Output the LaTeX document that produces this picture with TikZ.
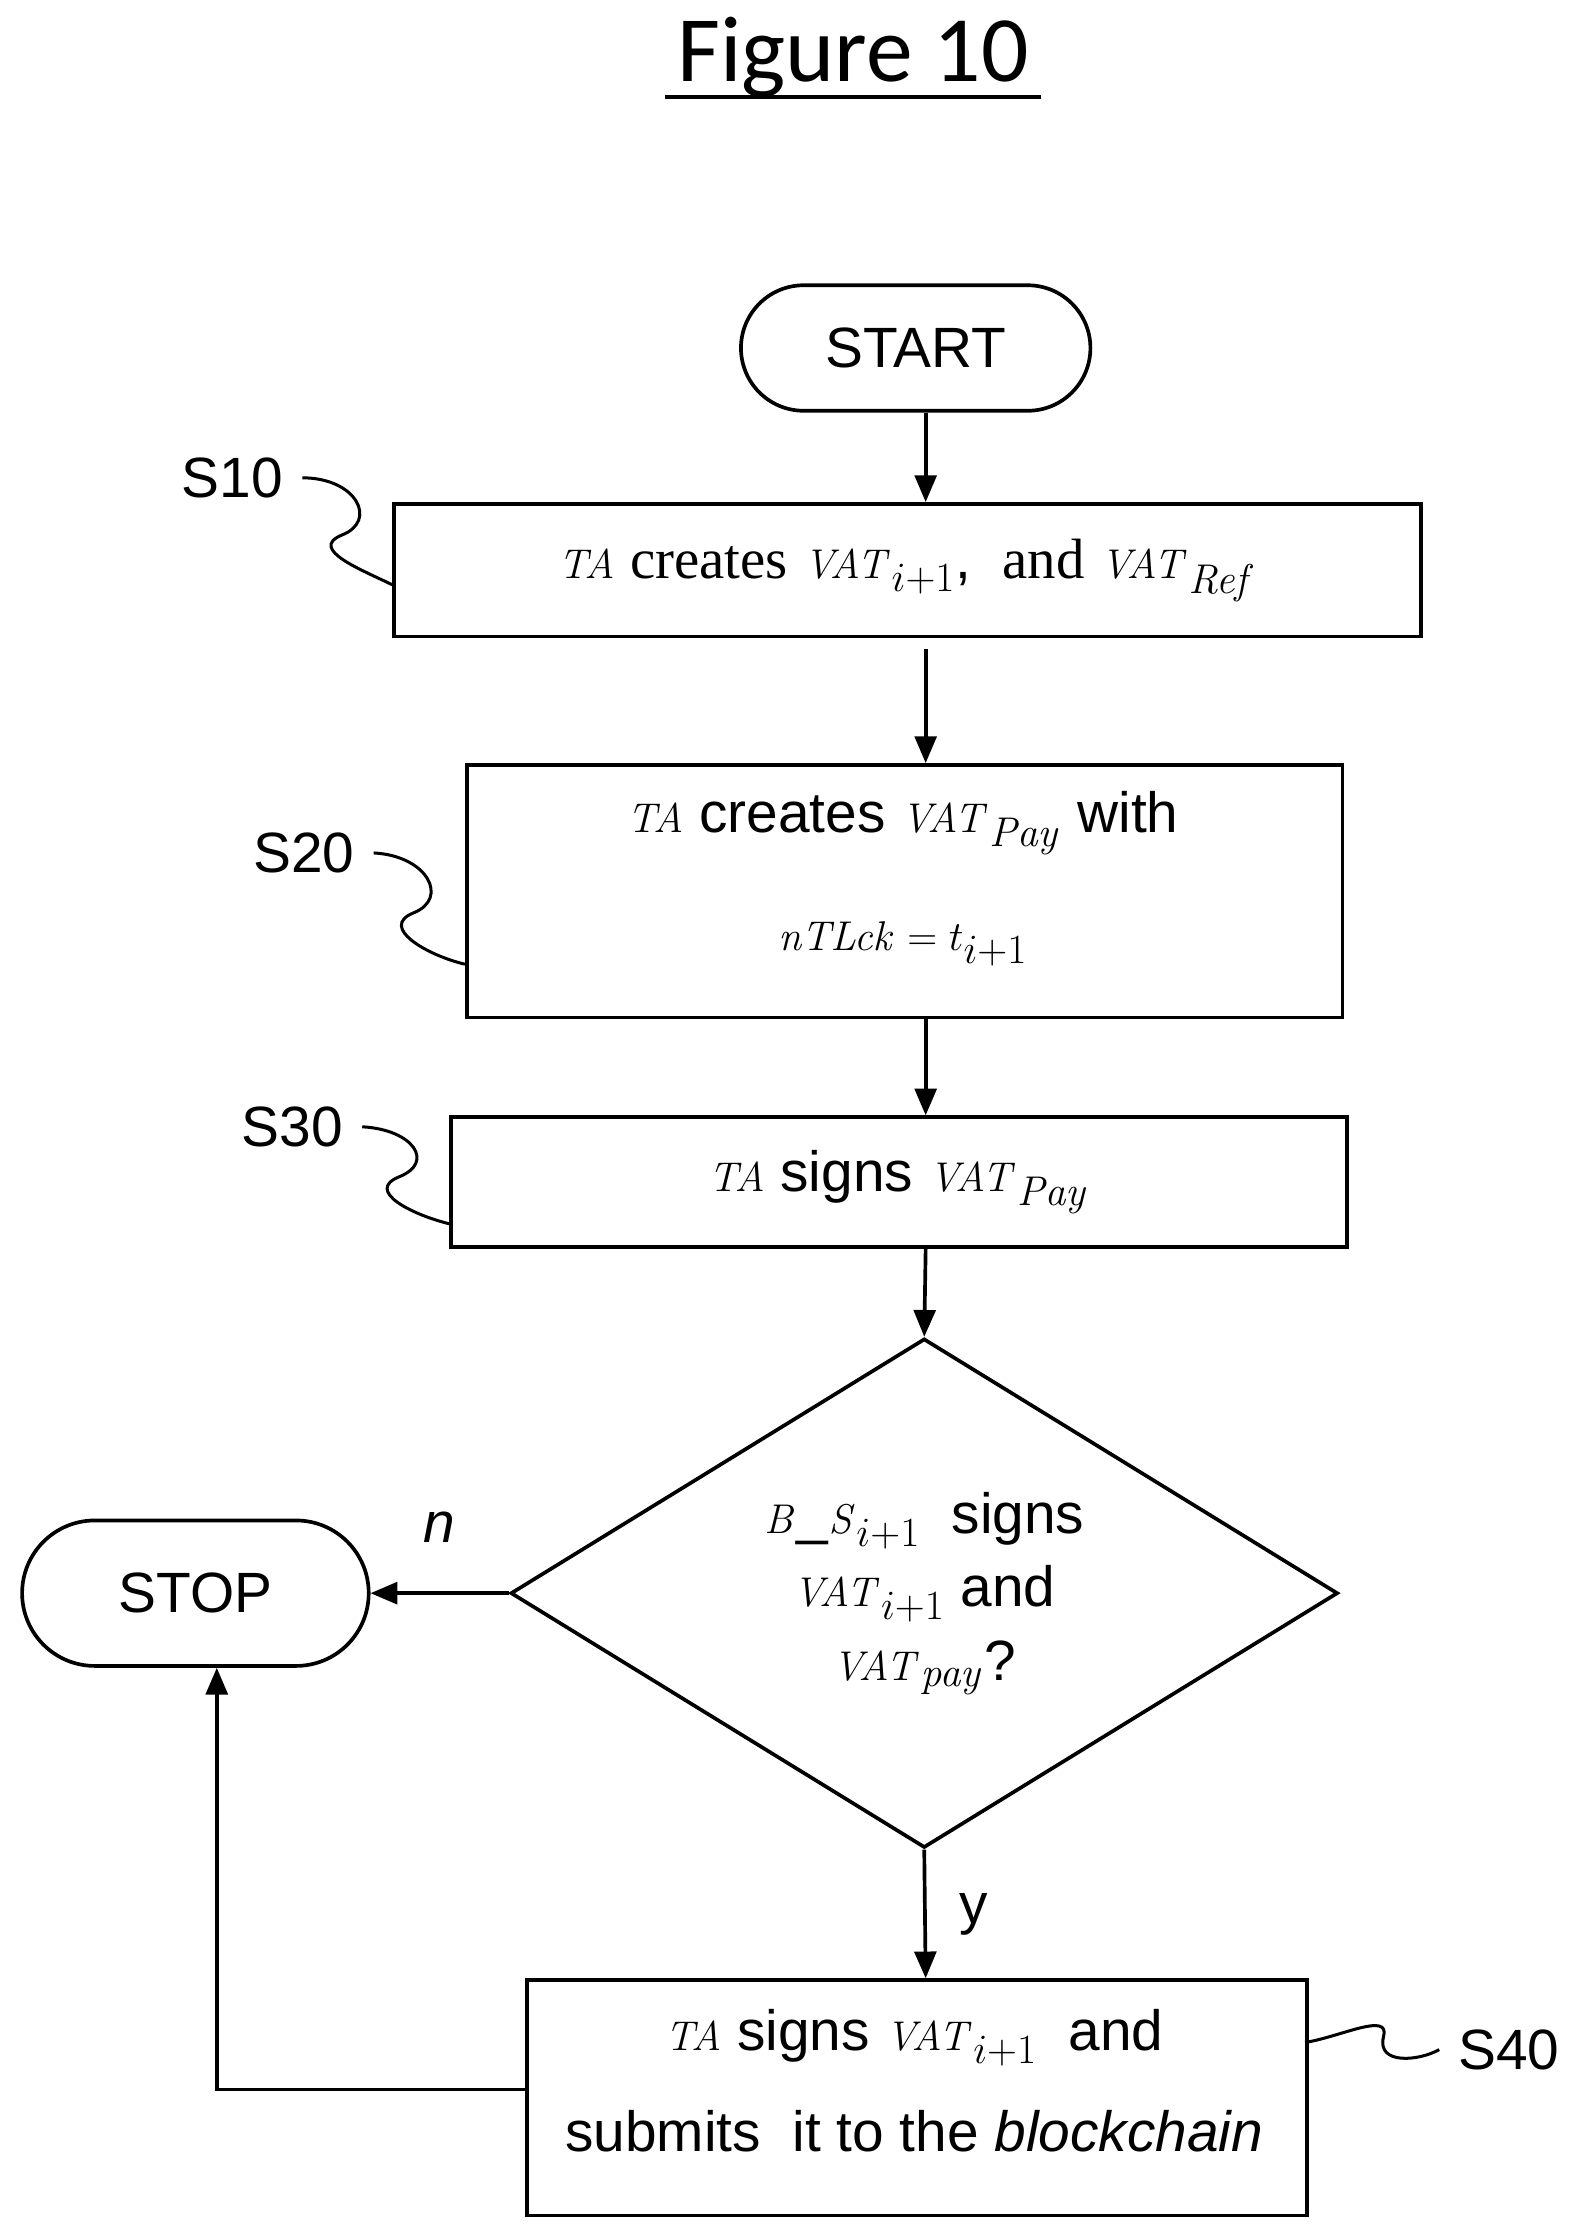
\documentclass[tikz,border=0pt]{standalone}
\usepackage[no-math]{fontspec}
\setmainfont{Liberation Sans}
\newfontfamily\titlefont{Carlito}
\newfontfamily\serifw{Liberation Serif}
\usetikzlibrary{shapes.geometric,shapes.misc,arrows.meta}
\begin{document}
\begin{tikzpicture}[x=0.03cm,y=-0.03cm,
	box/.style={draw,line width=2.2pt,anchor=north west,align=center,inner sep=0pt},
	term/.style={draw,line width=2.2pt,rounded rectangle,inner sep=0pt},
	flow/.style={-{Triangle[length=16pt,width=13pt]},line width=2.2pt},
	curl/.style={line width=1.8pt},
	lbl/.style={font=\fontsize{34}{40}\selectfont}]
	\useasboundingbox (0,0) rectangle (1100,1567);
	\fontsize{34}{44}\selectfont
	
	\node at (598,40) {\titlefont\fontsize{56}{60}\selectfont Figure 10}; %title
	\draw[line width=2.5pt] (466,68) -- (730,68); %underline
	
	% boxes
	\node[term,minimum width=245*0.03cm,minimum height=88*0.03cm] (start) at (642,244) {START};
	\node[box,minimum width=720*0.03cm,minimum height=93*0.03cm] (s10) at (275,352) {};
	\node at (s10.center) {$\mathit{TA}$ {\serifw creates} $\mathit{VAT}_{i+1}$, \ {\serifw and} $\mathit{VAT}_{\mathit{Ref}}$};
	\node[box,minimum width=614*0.03cm,minimum height=177*0.03cm] (s20) at (326,535) {};
	\node at (633,577) {$\mathit{TA}$ creates $\mathit{VAT}_{\mathit{Pay}}$ with};
	\node at (633,662) {$\mathit{nTLck}=t_{i+1}$};
	\node[box,minimum width=628*0.03cm,minimum height=91*0.03cm] (s30) at (315,782) {};
	\node at (s30.center) {$\mathit{TA}$ signs $\mathit{VAT}_{\mathit{Pay}}$};
	\node[diamond,draw,line width=2.2pt,minimum width=580*0.03cm,minimum height=357*0.03cm,inner sep=0pt,aspect=1.62] (dec) at (648,1117) {};
	\node[align=center] at (648,1117) {$\mathit{B\_S}_{i+1}$ \ signs\\ $\mathit{VAT}_{i+1}$ and\\ $\mathit{VAT}_{\mathit{pay}}$?};
	\node[term,minimum width=243*0.03cm,minimum height=102*0.03cm] (stop) at (137,1117) {STOP};
	\node[box,minimum width=547*0.03cm,minimum height=165*0.03cm] (s40) at (368,1387) {};
	\node at (641,1429) {$\mathit{TA}$ signs $\mathit{VAT}_{i+1}$ \ and};
	\node at (641,1494) {submits \ it to the \textit{blockchain}};
	
	% connectors
	\draw[flow] (start.south -| 649,0) -- (s10.north -| 649,0);
	\coordinate (a1) at (649,455);
	\draw[flow] (a1) -- (s20.north -| 649,0);
	\draw[flow] (s20.south -| 649,0) -- (s30.north -| 649,0);
	\draw[flow] (s30.south -| 649,0) -- (dec.north);
	\draw[flow] (dec.south) -- (s40.north -| 649,0) node[midway,right=8pt,lbl]{y};
	\draw[flow] (dec.west) -- (stop.east) node[midway,above=18pt,lbl]{\itshape n};
	\draw[flow] (s40.west |- 0,1465) -- (152,1465) -- (stop.south -| 152,0);
	
	% step labels
	\node[lbl] (l10) at (163,335) {S10};
	\node[lbl] (l20) at (213,598) {S20};
	\node[lbl] (l30) at (205,790) {S30};
	\node[lbl] (l40) at (1058,1437) {S40};
	\draw[curl] (l10.east) .. controls (250,335) and (265,365) .. (240,375) .. controls (215,385) and (255,400) .. (275,410);
	\draw[curl] (l20.east) .. controls (300,600) and (315,630) .. (290,640) .. controls (265,650) and (300,670) .. (326,676);
	\draw[curl] (l30.east) .. controls (290,792) and (305,815) .. (280,825) .. controls (255,835) and (290,852) .. (315,858);
	\draw[curl] (915,1432) .. controls (940,1428) and (975,1410) .. (970,1428) .. controls (965,1448) and (995,1445) .. (l40.west);
\end{tikzpicture}
\end{document}
